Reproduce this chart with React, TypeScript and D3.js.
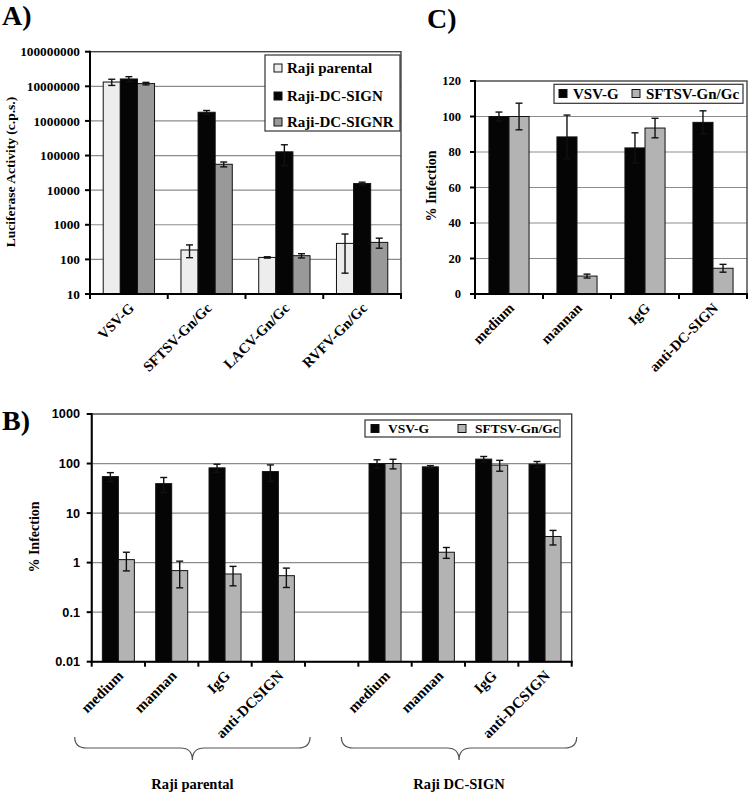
import React from 'react'
import * as d3 from 'd3'

const serif = '"Liberation Serif", "Times New Roman", serif'
const sans = '"Liberation Sans", Arial, sans-serif'

// ---- panel A: luciferase activity, log scale
const aCategories = ['VSV-G', 'SFTSV-Gn/Gc', 'LACV-Gn/Gc', 'RVFV-Gn/Gc']
const aSeries = ['Raji parental', 'Raji-DC-SIGN', 'Raji-DC-SIGNR']
const aColors = ['#ededed', '#050505', '#999999']
const aParental = [13300000, 187, 114, 290]
const aParentalErr = [2700000, 75, 5, 250]
const aDcSign = [16300000, 1780000, 128000, 15500]
const aDcSignErr = [2700000, 220000, 77000, 1500]
const aDcSignR = [12000000, 56000, 128, 310]
const aDcSignRErr = [1000000, 9000, 18, 100]
const aTicks = [10, 100, 1000, 10000, 100000, 1000000, 10000000, 100000000]

// ---- panel C: % infection, linear
const cCategories = ['medium', 'mannan', 'IgG', 'anti-DC-SIGN']
const cSeries = ['VSV-G', 'SFTSV-Gn/Gc']
const cColors = ['#050505', '#b3b3b3']
const cVsv = [100, 88.5, 82.3, 96.7]
const cVsvErr = [2.5, 12.3, 8.5, 6.5]
const cSftsv = [100, 10.1, 93.5, 14.5]
const cSftsvErr = [7.5, 1.1, 5.5, 2.2]
const cTicks = [0, 20, 40, 60, 80, 100, 120]

// ---- panel B: % infection, log scale, two cell lines
const bTreatments = ['medium', 'mannan', 'IgG', 'anti-DCSIGN']
const bGroups = ['Raji parental', 'Raji DC-SIGN']
const bSeries = ['VSV-G', 'SFTSV-Gn/Gc']
const bColors = ['#050505', '#b3b3b3']
const bVsvParental = [54.5, 39.3, 81.8, 68.8]
const bVsvParentalErr = [11, 13, 15, 25]
const bSftsvParental = [1.15, 0.69, 0.59, 0.545]
const bSftsvParentalErr = [0.47, 0.38, 0.25, 0.23]
const bVsvDcSign = [100, 85.7, 122.8, 97]
const bVsvDcSignErr = [19, 5, 16, 13]
const bSftsvDcSign = [100, 1.62, 93, 3.37]
const bSftsvDcSignErr = [22, 0.4, 23, 1.1]
const bTicks = [0.01, 0.1, 1, 10, 100, 1000]

interface Series {
  values: (number | null)[]
  errors: (number | null)[]
  color: string
}

interface PanelProps {
  left: number
  right: number
  y: any
  ticks: number[]
  fmt: (v: number) => string
  tickFont: string
  tickSize: number
  tickGap: number
  keys: string[]
  labels: string[]
  series: Series[]
  groupFrac: number
  labelSize: number
}

function Panel({left, right, y, ticks, fmt, tickFont, tickSize, tickGap, keys, labels, series, groupFrac, labelSize}: PanelProps) {
  const x = d3.scaleBand().domain(keys).range([left, right])
  const bw = x.bandwidth()
  const inner = d3
    .scaleBand()
    .domain(series.map((s, i) => String(i)))
    .range([(bw * (1 - groupFrac)) / 2, (bw * (1 + groupFrac)) / 2])
  const [dMin, dMax] = y.domain()
  const bottom = y(dMin)
  const top = y(dMax)
  const boundaries = keys.map(k => x(k) as number).concat([right])

  return (
    <g>
      {/* grid */}
      {ticks.slice(1, -1).map(t => (
        <line key={'g' + t} x1={left} x2={right} y1={y(t)} y2={y(t)} stroke="#8c8c8c" strokeWidth={1.2} />
      ))}
      <rect x={left} y={top} width={right - left} height={bottom - top} fill="none" stroke="#444" strokeWidth={1.4} />

      {/* bars */}
      {series.map((s, si) =>
        keys.map((k, ki) => {
          const v = s.values[ki]
          if (v == null) return null
          const bx = (x(k) as number) + (inner(String(si)) as number)
          return (
            <rect
              key={`b${si}-${ki}`}
              x={bx}
              y={y(v)}
              width={inner.bandwidth()}
              height={bottom - y(v)}
              fill={s.color}
              stroke="#111"
              strokeWidth={1}
            />
          )
        })
      )}

      {/* error bars */}
      {series.map((s, si) =>
        keys.map((k, ki) => {
          const v = s.values[ki]
          const e = s.errors[ki]
          if (v == null || e == null) return null
          const cx = (x(k) as number) + (inner(String(si)) as number) + inner.bandwidth() / 2
          const y1 = y(v + e)
          const y0 = y(Math.max(v - e, dMin))
          return (
            <g key={`e${si}-${ki}`} stroke="#111" strokeWidth={1.4}>
              <line x1={cx} x2={cx} y1={y1} y2={y0} />
              <line x1={cx - 3.5} x2={cx + 3.5} y1={y1} y2={y1} />
              <line x1={cx - 3.5} x2={cx + 3.5} y1={y0} y2={y0} />
            </g>
          )
        })
      )}

      {/* axes */}
      <line x1={left} x2={left} y1={top - 1} y2={bottom + 1} stroke="#000" strokeWidth={2} />
      <line x1={left - 1} x2={right + 1} y1={bottom} y2={bottom} stroke="#000" strokeWidth={2} />
      {ticks.map(t => (
        <g key={'t' + t}>
          <line x1={left - 5} x2={left} y1={y(t)} y2={y(t)} stroke="#000" strokeWidth={2} />
          <text
            x={left - tickGap}
            y={y(t)}
            dy="0.35em"
            textAnchor="end"
            fontFamily={tickFont}
            fontWeight="bold"
            fontSize={tickSize}>
            {fmt(t)}
          </text>
        </g>
      ))}
      {boundaries.map((bx, i) => (
        <line key={'xt' + i} x1={bx} x2={bx} y1={bottom} y2={bottom + 5} stroke="#000" strokeWidth={2} />
      ))}
      {keys.map((k, i) => (
        <text
          key={'l' + k}
          transform={`translate(${(x(k) as number) + bw / 2 + 6},${bottom + 15}) rotate(-45)`}
          textAnchor="end"
          fontFamily={serif}
          fontWeight="bold"
          fontSize={labelSize}>
          {labels[i]}
        </text>
      ))}
    </g>
  )
}

function brace(x0: number, x1: number, y0: number, ym: number, yt: number) {
  const tip = (x0 + x1) / 2
  return `M${x0},${y0} Q${x0},${ym} ${x0 + 12},${ym} L${tip - 12},${ym} Q${tip},${ym} ${tip},${yt}
    Q${tip},${ym} ${tip + 12},${ym} L${x1 - 12},${ym} Q${x1},${ym} ${x1},${y0}`
}

export default function App() {
  const aY = d3.scaleLog().domain([10, 100000000]).range([294, 51.7])
  const cY = d3.scaleLinear().domain([0, 120]).range([294, 81])
  const bY = d3.scaleLog().domain([0.01, 1000]).range([661.7, 414])

  const aSeriesData: Series[] = [
    {values: aParental, errors: aParentalErr, color: aColors[0]},
    {values: aDcSign, errors: aDcSignErr, color: aColors[1]},
    {values: aDcSignR, errors: aDcSignRErr, color: aColors[2]},
  ]
  const cSeriesData: Series[] = [
    {values: cVsv, errors: cVsvErr, color: cColors[0]},
    {values: cSftsv, errors: cSftsvErr, color: cColors[1]},
  ]
  const bKeys = bTreatments.map(t => 'p-' + t).concat(['gap'], bTreatments.map(t => 'd-' + t))
  const bLabels = bTreatments.concat([''], bTreatments)
  const bSeriesData: Series[] = [
    {values: [...bVsvParental, null, ...bVsvDcSign], errors: [...bVsvParentalErr, null, ...bVsvDcSignErr], color: bColors[0]},
    {values: [...bSftsvParental, null, ...bSftsvDcSign], errors: [...bSftsvParentalErr, null, ...bSftsvDcSignErr], color: bColors[1]},
  ]

  const bx = d3.scaleBand().domain(bKeys).range([91.7, 571.7])

  return (
    <svg
      width={750}
      height={792}
      style={{position: 'absolute', left: 0, top: 0, background: '#fff'}}
      fontFamily={serif}>
      {/* panel A */}
      <text x={2} y={25} fontSize={28} fontWeight="bold">A)</text>
      <Panel
        left={90}
        right={401}
        y={aY}
        ticks={aTicks}
        fmt={d3.format('d')}
        tickFont={serif}
        tickSize={13.3}
        tickGap={10}
        keys={aCategories}
        labels={aCategories}
        series={aSeriesData}
        groupFrac={0.66}
        labelSize={14.5}
      />
      <text transform="translate(15,172) rotate(-90)" textAnchor="middle" fontWeight="bold" fontSize={13.5}>
        Luciferase Activity (c.p.s.)
      </text>
      <g>
        <rect x={265} y={55} width={135} height={76} fill="#fff" stroke="#333" strokeWidth={1.2} />
        {aSeries.map((s, i) => {
          const cy = [68, 96, 122][i]
          return (
            <g key={s}>
              <rect x={274} y={cy - 4} width={8} height={8} fill={aColors[i]} stroke="#111" />
              <text x={287} y={cy} dy="0.35em" fontWeight="bold" fontSize={15}>{s}</text>
            </g>
          )
        })}
      </g>

      {/* panel C */}
      <text x={427} y={28} fontSize={28} fontWeight="bold">C)</text>
      <Panel
        left={475}
        right={747}
        y={cY}
        ticks={cTicks}
        fmt={d3.format('d')}
        tickFont={serif}
        tickSize={12.5}
        tickGap={14}
        keys={cCategories}
        labels={cCategories}
        series={cSeriesData}
        groupFrac={0.59}
        labelSize={14.5}
      />
      <text transform="translate(436,186) rotate(-90)" textAnchor="middle" fontWeight="bold" fontSize={14}>
        % Infection
      </text>
      <g>
        <rect x={554} y={84.3} width={189} height={19} fill="#fff" stroke="#333" strokeWidth={1.2} />
        {cSeries.map((s, i) => {
          const lx = [559, 632][i]
          return (
            <g key={s}>
              <rect x={lx} y={89.5} width={8} height={8} fill={cColors[i]} stroke="#111" />
              <text x={lx + 14} y={93.8} dy="0.35em" fontWeight="bold" fontSize={15}>{s}</text>
            </g>
          )
        })}
      </g>

      {/* panel B */}
      <text x={2} y={430} fontSize={28} fontWeight="bold">B)</text>
      <Panel
        left={91.7}
        right={571.7}
        y={bY}
        ticks={bTicks}
        fmt={d3.format('~g')}
        tickFont={sans}
        tickSize={12.7}
        tickGap={11.7}
        keys={bKeys}
        labels={bLabels}
        series={bSeriesData}
        groupFrac={0.6}
        labelSize={15}
      />
      <text transform="translate(39,537) rotate(-90)" textAnchor="middle" fontWeight="bold" fontSize={14}>
        % Infection
      </text>
      <g>
        <rect x={365} y={420} width={195} height={17} fill="#fff" stroke="#333" strokeWidth={1.2} />
        {bSeries.map((s, i) => {
          const lx = [371, 458][i]
          return (
            <g key={s}>
              <rect x={lx} y={424.5} width={8} height={8} fill={bColors[i]} stroke="#111" />
              <text x={lx + 17} y={428.5} dy="0.35em" fontWeight="bold" fontSize={13.5}>{s}</text>
            </g>
          )
        })}
      </g>
      {bGroups.map((g, gi) => {
        const x0 = (bx(bKeys[gi * 5]) as number) - 17
        const x1 = (bx(bKeys[gi * 5 + 3]) as number) + bx.bandwidth() + 5
        return (
          <g key={g}>
            <path d={brace(x0, x1, 737, 748, 760)} fill="none" stroke="#555" strokeWidth={1.2} />
            <text x={(x0 + x1) / 2} y={789} textAnchor="middle" fontWeight="bold" fontSize={14.5}>{g}</text>
          </g>
        )
      })}
    </svg>
  )
}
